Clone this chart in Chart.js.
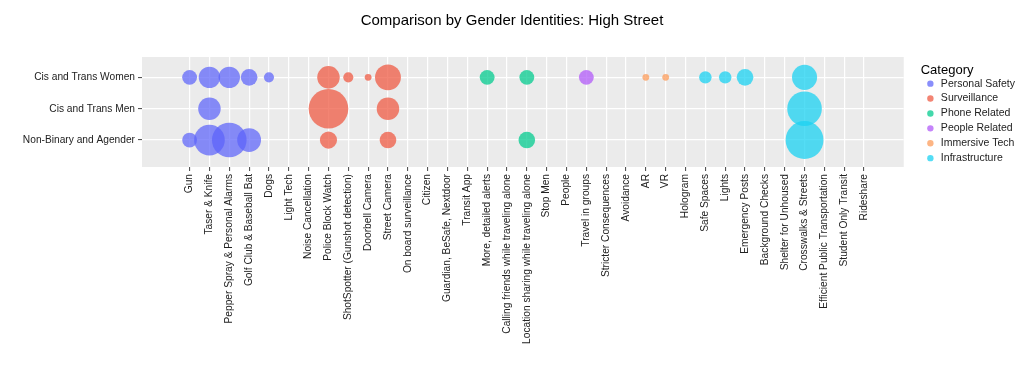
<!DOCTYPE html>
<html lang="en">
<head>
    <meta charset="UTF-8">
    <title>Comparison by Gender Identities: High Street</title>
    <script src="https://cdn.jsdelivr.net/npm/chart.js@4.4.1/dist/chart.umd.min.js"></script>
    <style>
        html, body {
            margin: 0;
            padding: 0;
            background: #fff;
        }

        .chart-box {
            width: 1024px;
            height: 370px;
        }
    </style>
</head>
<body>
    <div class="chart-box">
        <canvas id="bubbleChart"></canvas>
    </div>

    <script>
        // x axis: one column per answer
        const items = [
            'Gun', 'Taser & Knife', 'Pepper Spray & Personal Alarms', 'Golf Club & Baseball Bat', 'Dogs',
            'Light Tech', 'Noise Cancellation', 'Police Block Watch', 'ShotSpotter (Gunshot detection)',
            'Doorbell Camera', 'Street Camera', 'On board surveillance', 'Citizen', 'Guardian, BeSafe, Nextdoor',
            'Transit App', 'More, detailed alerts', 'Calling friends while traveling alone',
            'Location sharing while traveling alone', 'Stop Men', 'People', 'Travel in groups',
            'Stricter Consequences', 'Avoidance', 'AR', 'VR', 'Hologram', 'Safe Spaces', 'Lights',
            'Emergency Posts', 'Background Checks', 'Shelter for Unhoused', 'Crosswalks & Streets',
            'Efficient Public Transportation', 'Student Only Transit', 'Rideshare'
        ];

        // y axis rows
        const groups = ['Cis and Trans Women', 'Cis and Trans Men', 'Non-Binary and Agender'];

        const categories = ['Personal Safety', 'Surveillance', 'Phone Related', 'People Related', 'Immersive Tech', 'Infrastructure'];
        const categoryColors = [
            'rgba(92, 98, 250, 0.72)',
            'rgba(239, 91, 68, 0.75)',
            'rgba(4, 203, 143, 0.75)',
            'rgba(178, 91, 248, 0.75)',
            'rgba(252, 156, 91, 0.75)',
            'rgba(27, 210, 242, 0.75)'
        ];

        // category of each item (same order as items)
        const itemCategory = [0, 0, 0, 0, 0, 0, 0, 1, 1, 1, 1, 1, 2, 2, 2, 2, 2, 2, 3, 3, 3, 3, 3, 4, 4, 4, 5, 5, 5, 5, 5, 5, 5, 5, 5];

        // mentions per item, 0 = no bubble
        const women = [7, 21, 21, 10, 2, 0, 0, 24, 2, 1, 35, 0, 0, 0, 0, 7, 0, 7, 0, 0, 7, 0, 0, 1, 1, 0, 4, 4, 10, 0, 0, 32, 0, 0, 0];
        const men = [0, 24, 0, 0, 0, 0, 0, 101, 0, 0, 24, 0, 0, 0, 0, 0, 0, 0, 0, 0, 0, 0, 0, 0, 0, 0, 0, 0, 0, 0, 0, 73, 0, 0, 0];
        const nonBinary = [7, 54, 73, 28, 0, 0, 0, 11, 0, 0, 10, 0, 0, 0, 0, 0, 0, 10, 0, 0, 0, 0, 0, 0, 0, 0, 0, 0, 0, 0, 0, 91, 0, 0, 0];

        const countsByGroup = [women, men, nonBinary];

        // area scale for bubble size (radius in px)
        const sizeRange = [3.4, 19.8];
        const allCounts = women.concat(men, nonBinary).filter(n => n > 0);
        const nMin = Math.min(...allCounts);
        const nMax = Math.max(...allCounts);
        function bubbleRadius(n) {
            return sizeRange[0] + (sizeRange[1] - sizeRange[0]) * Math.sqrt((n - nMin) / (nMax - nMin));
        }

        const datasets = categories.map((cat, c) => {
            const points = [];
            countsByGroup.forEach((counts, g) => {
                counts.forEach((n, i) => {
                    if (n > 0 && itemCategory[i] === c) {
                        points.push({ x: i, y: g, r: bubbleRadius(n) });
                    }
                });
            });
            return {
                label: cat,
                data: points,
                backgroundColor: categoryColors[c],
                borderWidth: 0,
                hoverBorderWidth: 0
            };
        });

        // grey ggplot-like panel
        const panelBg = {
            id: 'panelBg',
            beforeDraw(chart) {
                const { ctx, chartArea: a } = chart;
                ctx.save();
                ctx.fillStyle = '#EBEBEB';
                ctx.fillRect(a.left, a.top, a.right - a.left, a.bottom - a.top);
                ctx.restore();
            }
        };

        // put legend next to the panel top with a gap, keep title centred on page
        const layoutNudge = {
            id: 'layoutNudge',
            afterLayout(chart) {
                const lg = chart.legend;
                const area = chart.chartArea;
                if (lg) {
                    const w = lg.width, h = lg.height;
                    lg.left = area.right + 17;
                    lg.right = lg.left + w;
                    lg.top = area.top + 2;
                    lg.bottom = lg.top + h;
                }
                const tb = chart.titleBlock;
                if (tb) {
                    tb.left = 0;
                    tb.right = chart.width;
                    tb.width = chart.width;
                }
            }
        };

        Chart.defaults.font.family = '"Liberation Sans", Arial, Helvetica, sans-serif';

        const ctx = document.getElementById('bubbleChart').getContext('2d');
        new Chart(ctx, {
            type: 'bubble',
            data: { datasets: datasets },
            plugins: [panelBg, layoutNudge],
            options: {
                responsive: true,
                maintainAspectRatio: false,
                animation: false,
                layout: {
                    padding: { top: 13, right: 16, bottom: 0, left: 0 }
                },
                plugins: {
                    title: {
                        display: true,
                        text: 'Comparison by Gender Identities: High Street',
                        color: '#000',
                        font: { size: 15, weight: 'normal', lineHeight: 1 },
                        padding: { top: 0, bottom: 29 }
                    },
                    legend: {
                        position: 'right',
                        align: 'start',
                        title: {
                            display: true,
                            text: 'Category',
                            position: 'start',
                            color: '#000',
                            font: { size: 13, lineHeight: 0.8 },
                            padding: { top: 4.6, bottom: 0 }
                        },
                        labels: {
                            usePointStyle: true,
                            pointStyle: 'circle',
                            boxWidth: 11,
                            boxHeight: 4.5,
                            padding: 4.4,
                            color: '#222',
                            font: { size: 10.5 }
                        }
                    },
                    tooltip: { enabled: false }
                },
                scales: {
                    x: {
                        type: 'linear',
                        min: -2.4,
                        max: 36.0,
                        afterBuildTicks: s => { s.ticks = items.map((_, i) => ({ value: i })); },
                        afterFit: s => { s.height = 203; },
                        ticks: {
                            autoSkip: false,
                            minRotation: 90,
                            maxRotation: 90,
                            padding: 3,
                            color: '#222',
                            font: { size: 10.2 },
                            callback: v => items[v]
                        },
                        grid: { color: '#fff', lineWidth: 1.2, tickColor: '#444', tickLength: 4, tickWidth: 1 },
                        border: { display: false }
                    },
                    y: {
                        type: 'linear',
                        reverse: true,
                        min: -0.65,
                        max: 2.86,
                        afterBuildTicks: s => { s.ticks = groups.map((_, i) => ({ value: i })); },
                        afterFit: s => { s.width = 142; },
                        ticks: {
                            padding: 3,
                            color: '#222',
                            font: { size: 10.2 },
                            callback: v => groups[v]
                        },
                        grid: { color: '#fff', lineWidth: 1.2, tickColor: '#444', tickLength: 4, tickWidth: 1 },
                        border: { display: false }
                    }
                }
            }
        });
    </script>
</body>
</html>
